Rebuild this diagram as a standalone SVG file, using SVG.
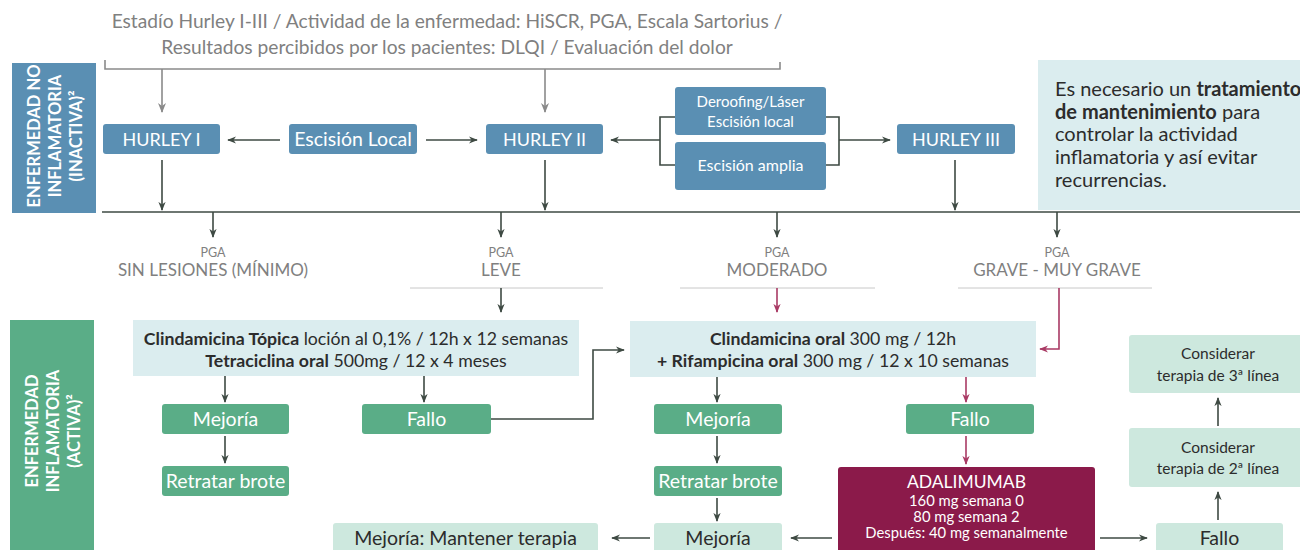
<svg xmlns="http://www.w3.org/2000/svg" width="1300" height="550" viewBox="0 0 1300 550">
<defs>
<marker id="ad" viewBox="0 0 10 10" refX="9" refY="5" markerWidth="9" markerHeight="9" markerUnits="userSpaceOnUse" orient="auto"><path d="M0,1 L10,5 L0,9 L3,5 Z" fill="#3e4a43"/></marker>
<marker id="ar" viewBox="0 0 10 10" refX="9" refY="5" markerWidth="9" markerHeight="9" markerUnits="userSpaceOnUse" orient="auto"><path d="M0,1 L10,5 L0,9 L3,5 Z" fill="#a93a64"/></marker>
<marker id="ag" viewBox="0 0 10 10" refX="9" refY="5" markerWidth="10" markerHeight="10" markerUnits="userSpaceOnUse" orient="auto"><path d="M0,1 L10,5 L0,9 L3,5 Z" fill="#8a8a8a"/></marker>
</defs>
<style>
text{font-family:Lato,"Liberation Sans",sans-serif}
.blue{fill:#5a8fb3}
.green{fill:#5aad87}
.mint{fill:#cde8de}
.teal{fill:#dbedef}
.mag{fill:#8b1a4a}
.wt{fill:#fff;text-anchor:middle}
.dt{fill:#2c2c2c;text-anchor:middle}
.gt{fill:#808080;text-anchor:middle}
.side{fill:#fff;font-weight:bold;text-anchor:middle}
.d{stroke:#3e4a43;stroke-width:1.6;fill:none}
.r{stroke:#a93a64;stroke-width:1.6;fill:none}
.g{stroke:#8a8a8a;stroke-width:1.6;fill:none}
.thin{stroke:#c8c8c8;stroke-width:1;fill:none}
</style>

<g id="header">
<text class="gt" x="447" y="28" font-size="19.2">Estadío Hurley I-III / Actividad de la enfermedad: HiSCR, PGA, Escala Sartorius /</text>
<text class="gt" x="447" y="54" font-size="19.2">Resultados percibidos por los pacientes: DLQI / Evaluación del dolor</text>
</g>

<g id="label-inactiva">
<rect class="blue" x="12" y="63" width="84" height="150"/>
<text class="side" font-size="16.5" transform="translate(54,136) rotate(-90)"><tspan x="0" y="-14">ENFERMEDAD NO</tspan><tspan x="0" y="7">INFLAMATORIA</tspan><tspan x="0" y="28">(INACTIVA)²</tspan></text>
</g>

<g id="label-activa">
<rect class="green" x="10" y="320" width="84" height="230"/>
<text class="side" font-size="16.5" transform="translate(52,431) rotate(-90)"><tspan x="0" y="-14">ENFERMEDAD</tspan><tspan x="0" y="7">INFLAMATORIA</tspan><tspan x="0" y="28">(ACTIVA)²</tspan></text>
</g>

<g id="hurley1"><rect class="blue" x="103" y="124" width="117" height="30" rx="3"/><text class="wt" x="161.5" y="146" font-size="18">HURLEY I</text></g>
<g id="escision-local"><rect class="blue" x="289" y="124" width="128" height="30" rx="3"/><text class="wt" x="353" y="146" font-size="19.5">Escisión Local</text></g>
<g id="hurley2"><rect class="blue" x="486" y="124" width="117" height="30" rx="3"/><text class="wt" x="544.5" y="146" font-size="18">HURLEY II</text></g>
<g id="deroofing"><rect class="blue" x="675" y="87" width="151" height="48" rx="3"/><text class="wt" x="750.5" y="107" font-size="15">Deroofing/Láser</text><text class="wt" x="750.5" y="127" font-size="15">Escisión local</text></g>
<g id="escision-amplia"><rect class="blue" x="675" y="142" width="151" height="48" rx="3"/><text class="wt" x="750.5" y="171" font-size="16">Escisión amplia</text></g>
<g id="hurley3"><rect class="blue" x="897" y="124" width="118" height="30" rx="3"/><text class="wt" x="956" y="146" font-size="18">HURLEY III</text></g>

<g id="nota">
<rect class="teal" x="1038" y="60" width="262" height="150"/>
<text x="1055" y="96" font-size="20" fill="#2c2c2c">Es necesario un <tspan font-weight="bold">tratamiento</tspan></text>
<text x="1055" y="119" font-size="20" fill="#2c2c2c"><tspan font-weight="bold">de mantenimiento</tspan> para</text>
<text x="1055" y="141" font-size="20" fill="#2c2c2c">controlar la actividad</text>
<text x="1055" y="164" font-size="20" fill="#2c2c2c">inflamatoria y así evitar</text>
<text x="1055" y="187" font-size="20" fill="#2c2c2c">recurrencias.</text>
</g>

<g id="pga-labels">
<text class="gt" x="213" y="257" font-size="12.5">PGA</text>
<text class="gt" x="213" y="276" font-size="17">SIN LESIONES (MÍNIMO)</text>
<text class="gt" x="501" y="257" font-size="12.5">PGA</text>
<text class="gt" x="501" y="276" font-size="17">LEVE</text>
<text class="gt" x="777" y="257" font-size="12.5">PGA</text>
<text class="gt" x="777" y="276" font-size="17">MODERADO</text>
<text class="gt" x="1057" y="257" font-size="12.5">PGA</text>
<text class="gt" x="1057" y="276" font-size="17">GRAVE - MUY GRAVE</text>
</g>

<g id="tx-topica"><rect class="teal" x="133" y="320" width="446" height="56"/>
<text class="dt" x="356" y="345" font-size="17.7"><tspan font-weight="bold">Clindamicina Tópica</tspan> loción al 0,1% / 12h x 12 semanas</text>
<text class="dt" x="356" y="367" font-size="17.7"><tspan font-weight="bold">Tetraciclina oral</tspan> 500mg / 12 x 4 meses</text></g>

<g id="tx-oral"><rect class="teal" x="630" y="321" width="406" height="56"/>
<text class="dt" x="833" y="345" font-size="17.7"><tspan font-weight="bold">Clindamicina oral</tspan> 300 mg / 12h</text>
<text class="dt" x="833" y="367" font-size="17.7"><tspan font-weight="bold">+ Rifampicina oral</tspan> 300 mg / 12 x 10 semanas</text></g>

<g id="mejoria1"><rect class="green" x="162" y="404" width="127" height="30" rx="3"/><text class="wt" x="225.5" y="426" font-size="19.5">Mejoría</text></g>
<g id="retratar1"><rect class="green" x="162" y="466" width="127" height="30" rx="3"/><text class="wt" x="225.5" y="488" font-size="19.5">Retratar brote</text></g>
<g id="fallo1"><rect class="green" x="362" y="404" width="129" height="30" rx="3"/><text class="wt" x="426.5" y="426" font-size="19.5">Fallo</text></g>
<g id="mejoria2"><rect class="green" x="654" y="404" width="128" height="30" rx="3"/><text class="wt" x="718" y="426" font-size="19.5">Mejoría</text></g>
<g id="retratar2"><rect class="green" x="654" y="466" width="128" height="30" rx="3"/><text class="wt" x="718" y="488" font-size="19.5">Retratar brote</text></g>
<g id="mejoria3"><rect class="mint" x="654" y="523" width="128" height="30" rx="3"/><text class="dt" x="718" y="545" font-size="19.5">Mejoría</text></g>
<g id="mantener"><rect class="mint" x="333" y="523" width="265" height="30" rx="3"/><text class="dt" x="465.5" y="545" font-size="19.5">Mejoría: Mantener terapia</text></g>
<g id="fallo2"><rect class="green" x="906" y="404" width="128" height="30" rx="3"/><text class="wt" x="970" y="426" font-size="19.5">Fallo</text></g>
<g id="adalimumab"><rect class="mag" x="838" y="467" width="257" height="90" rx="3"/>
<text class="wt" x="966.5" y="488" font-size="17.5">ADALIMUMAB</text>
<text class="wt" x="966.5" y="506" font-size="14.8">160 mg semana 0</text>
<text class="wt" x="966.5" y="522" font-size="14.8">80 mg semana 2</text>
<text class="wt" x="966.5" y="538" font-size="14.8">Después: 40 mg semanalmente</text></g>
<g id="fallo3"><rect class="mint" x="1156" y="523" width="127" height="30" rx="3"/><text class="dt" x="1219.5" y="545" font-size="19.5">Fallo</text></g>
<g id="terapia2"><rect class="mint" x="1129" y="428" width="175" height="59" rx="3"/><text class="dt" x="1218" y="453" font-size="15.5">Considerar</text><text class="dt" x="1218" y="474" font-size="15.5">terapia de 2ª línea</text></g>
<g id="terapia3"><rect class="mint" x="1129" y="335" width="175" height="58" rx="3"/><text class="dt" x="1218" y="359" font-size="15.5">Considerar</text><text class="dt" x="1218" y="381" font-size="15.5">terapia de 3ª línea</text></g>

<g id="connectors">
<path class="g" d="M105,60 V69 H780 V62"/>
<path class="g" d="M162,69 V112" marker-end="url(#ag)"/>
<path class="g" d="M545,69 V112" marker-end="url(#ag)"/>
<path class="d" d="M280,140 H228" marker-end="url(#ad)"/>
<path class="d" d="M426,140 H477" marker-end="url(#ad)"/>
<path class="d" d="M675,117 H660 V165 H675"/>
<path class="d" d="M826,117 H839 V165 H826"/>
<path class="d" d="M660,140 H611" marker-end="url(#ad)"/>
<path class="d" d="M839,140 H890" marker-end="url(#ad)"/>
<path class="d" d="M162,160 V210" marker-end="url(#ad)"/>
<path class="d" d="M545,160 V210" marker-end="url(#ad)"/>
<path class="d" d="M955,160 V210" marker-end="url(#ad)"/>
<path class="d" d="M102,212 H1300"/>
<path class="d" d="M213,212 V237" marker-end="url(#ad)"/>
<path class="d" d="M501,212 V237" marker-end="url(#ad)"/>
<path class="d" d="M777,212 V237" marker-end="url(#ad)"/>
<path class="d" d="M1057,212 V237" marker-end="url(#ad)"/>
<path class="thin" d="M410,288 H603 M680,288 H875 M958,288 H1152"/>
<path class="d" d="M501,288 V312" marker-end="url(#ad)"/>
<path class="r" d="M777,288 V312" marker-end="url(#ar)"/>
<path class="r" d="M1059,288 V349 H1040" marker-end="url(#ar)"/>
<path class="d" d="M225,376 V402" marker-end="url(#ad)"/>
<path class="d" d="M424,376 V402" marker-end="url(#ad)"/>
<path class="d" d="M225,436 V463" marker-end="url(#ad)"/>
<path class="d" d="M491,419 H593 V350 H624" marker-end="url(#ad)"/>
<path class="d" d="M717,377 V402" marker-end="url(#ad)"/>
<path class="d" d="M717,436 V463" marker-end="url(#ad)"/>
<path class="d" d="M717,498 V521" marker-end="url(#ad)"/>
<path class="d" d="M650,538 H612" marker-end="url(#ad)"/>
<path class="r" d="M966,377 V402" marker-end="url(#ar)"/>
<path class="r" d="M966,436 V464" marker-end="url(#ar)"/>
<path class="d" d="M832,538 H791" marker-end="url(#ad)"/>
<path class="d" d="M1100,538 H1147" marker-end="url(#ad)"/>
<path class="d" d="M1218,520 V492" marker-end="url(#ad)"/>
<path class="d" d="M1218,426 V398" marker-end="url(#ad)"/>
</g>
</svg>
